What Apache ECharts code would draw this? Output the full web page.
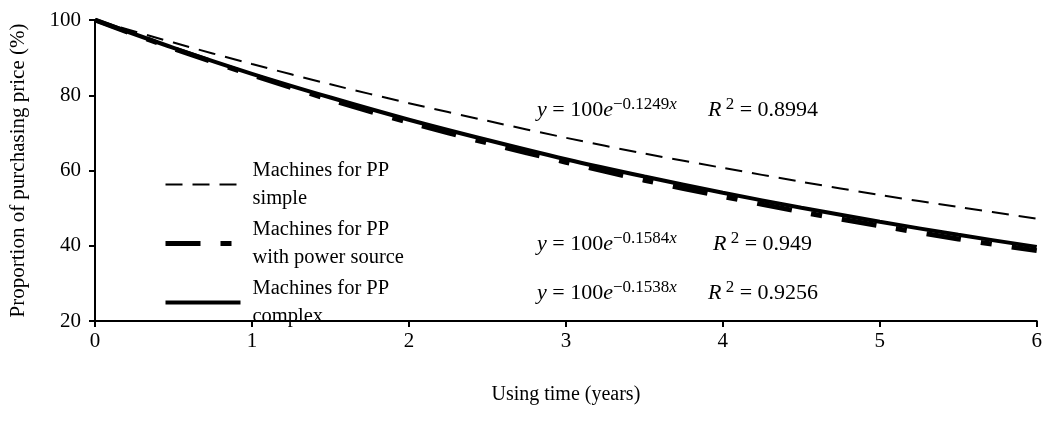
<!DOCTYPE html>
<html>
<head>
<meta charset="utf-8">
<script src="https://cdn.jsdelivr.net/npm/echarts@6/dist/echarts.min.js"></script>
<style>
  html, body { margin: 0; padding: 0; background: #fff; }
  #chart { width: 1045px; height: 439px; }
</style>
</head>
<body>
<div id="chart"></div>
<script>
// values, every half year
var years = [0, 0.5, 1, 1.5, 2, 2.5, 3, 3.5, 4, 4.5, 5, 5.5, 6];
var simple = [100, 94, 88.3, 82.9, 77.9, 73.2, 68.7, 64.5, 60.7, 57, 53.5, 50.3, 47.2];
var powerSource = [100, 92.4, 85.4, 78.8, 72.8, 67.3, 62.2, 57.4, 53.1, 49, 45.3, 41.8, 38.7];
var complex = [100, 92.6, 85.7, 79.4, 73.5, 68.1, 63, 58.4, 54.1, 50.1, 46.4, 42.9, 39.7];
var seriesNames = ['Machines for PP\nsimple', 'Machines for PP\nwith power source', 'Machines for PP\ncomplex'];
var equations = [
  ['0.1249', '0.8994'],
  ['0.1584', '0.949'],
  ['0.1538', '0.9256']
];

var font = '"Liberation Serif", "Times New Roman", serif';

var styles = [
  { color: '#000', width: 2, type: [17, 10] },
  { color: '#000', width: 5, type: [35, 20, 11, 20] },
  { color: '#000', width: 4, type: 'solid' }
];

function pairs(vals) {
  return years.map(function (x, i) { return [x, vals[i]]; });
}

var chart = echarts.init(document.getElementById('chart'), null, { renderer: 'canvas' });

function eqText(i) {
  return '{i|y}{n| = 100}{i|e}{sup|\u2212' + equations[i][0] + '}{supi|x}';
}
function r2Text(i) {
  return '{i|R}{sup| 2}{n| = ' + equations[i][1] + '}';
}
var rich = {
  n: { fontSize: 22, fontFamily: font, verticalAlign: 'bottom', fill: '#000' },
  i: { fontStyle: 'italic', fontSize: 22, fontFamily: font, verticalAlign: 'bottom', fill: '#000' },
  sup: { fontSize: 17, fontFamily: font, verticalAlign: 'bottom', padding: [0, 0, 8, 0], fill: '#000' },
  supi: { fontSize: 17, fontStyle: 'italic', fontFamily: font, verticalAlign: 'bottom', padding: [0, 0, 8, 0], fill: '#000' }
};
var eqPos = [[537, 96], [537, 230], [537, 279]];
var r2Pos = [[708, 96], [713, 230], [708, 279]];
var graphics = [];
eqPos.forEach(function (p, i) {
  graphics.push({
    type: 'text', left: p[0], top: p[1],
    style: { text: eqText(i), rich: rich, font: '22px ' + font, fill: '#000' }
  });
  graphics.push({
    type: 'text', left: r2Pos[i][0], top: r2Pos[i][1],
    style: { text: r2Text(i), rich: rich, font: '22px ' + font, fill: '#000' }
  });
});

chart.setOption({
  animation: false,
  backgroundColor: '#fff',
  grid: { left: 93, right: 8, top: 20, bottom: 118 },
  legend: {
    orient: 'vertical',
    left: 163,
    top: 153,
    padding: 0,
    itemWidth: 75,
    itemHeight: 14,
    itemGap: -4,
    itemStyle: { opacity: 0 },
    data: seriesNames.map(function (n, i) {
      return { name: n, lineStyle: styles[i] };
    }),
    textStyle: { fontFamily: font, fontSize: 20.5, lineHeight: 27.5, color: '#000', padding: [8, 0, 0, 7] }
  },
  xAxis: {
    type: 'value',
    min: 0, max: 6, interval: 1,
    name: 'Using time (years)',
    nameLocation: 'middle',
    nameGap: 64,
    nameTextStyle: { fontFamily: font, fontSize: 20, color: '#000' },
    axisLine: { lineStyle: { color: '#000', width: 2 } },
    axisTick: { length: 6, lineStyle: { color: '#000', width: 2 } },
    axisLabel: { fontFamily: font, fontSize: 21, color: '#000', margin: 10 },
    splitLine: { show: false }
  },
  yAxis: {
    type: 'value',
    min: 20, max: 100, interval: 20,
    name: 'Proportion of purchasing price (%)',
    nameLocation: 'middle',
    nameRotate: 90,
    nameGap: 66,
    nameTextStyle: { fontFamily: font, fontSize: 21, color: '#000' },
    axisLine: { show: true, lineStyle: { color: '#000', width: 2 } },
    axisTick: { show: true, length: 6, lineStyle: { color: '#000', width: 2 } },
    axisLabel: { fontFamily: font, fontSize: 21, color: '#000', margin: 14 },
    splitLine: { show: false }
  },
  graphic: graphics,
  series: [
    {
      name: seriesNames[0], type: 'line', data: pairs(simple),
      smooth: 0.3, symbol: 'none', lineStyle: styles[0], itemStyle: { color: '#000' }
    },
    {
      name: seriesNames[1], type: 'line', data: pairs(powerSource),
      smooth: 0.3, symbol: 'none', lineStyle: styles[1], itemStyle: { color: '#000' }
    },
    {
      name: seriesNames[2], type: 'line', data: pairs(complex),
      smooth: 0.3, symbol: 'none', lineStyle: styles[2], itemStyle: { color: '#000' }
    }
  ]
});
</script>
</body>
</html>
